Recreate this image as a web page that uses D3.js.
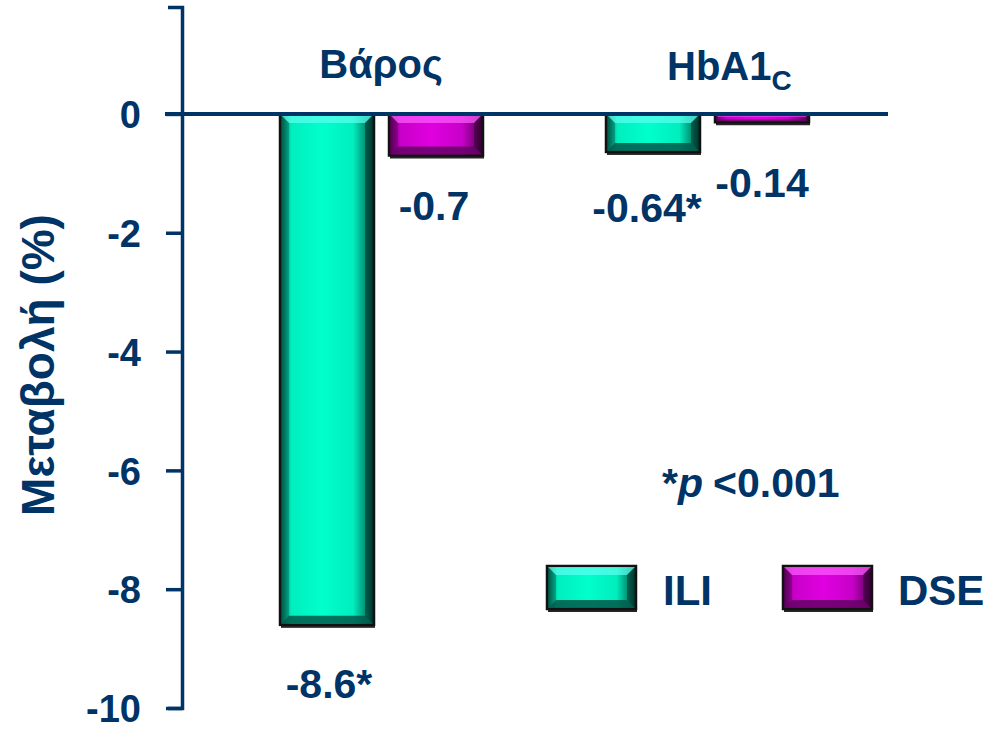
<!DOCTYPE html>
<html>
<head>
<meta charset="utf-8">
<script src="https://cdn.jsdelivr.net/npm/d3@7"></script>
<style>
  html, body { margin: 0; padding: 0; background: #ffffff; }
  svg { display: block; font-family: "Liberation Sans", Arial, sans-serif; }
</style>
</head>
<body>
<svg id="chart" width="987" height="730"></svg>
<script>
// Percent change by measure and intervention
const categories = ["Βάρος", "HbA1c"];
const seriesNames = ["ILI", "DSE"];
const iliValues = [-8.6, -0.64];
const dseValues = [-0.7, -0.14];
const iliLabels = ["-8.6*", "-0.64*"];
const dseLabels = ["-0.7", "-0.14"];
const yTicks = [0, -2, -4, -6, -8, -10];

const navy = "#003366";
const palette = {
  ILI: { dark: "#004d40", mid: "#00eebe", light: "#00ffcc", top: "#5cfff0", bottom: "#00594a" },
  DSE: { dark: "#4d004d", mid: "#c800c8", light: "#e000e0", top: "#ff5cff", bottom: "#660066" }
};

const svg = d3.select("#chart");
const defs = svg.append("defs");

// horizontal shading for the bevelled bars
seriesNames.forEach(s => {
  const c = palette[s];
  const g = defs.append("linearGradient").attr("id", "grad-" + s)
    .attr("x1", "0%").attr("x2", "100%").attr("y1", "0%").attr("y2", "0%");
  [[0, c.dark], [0.12, c.mid], [0.45, c.light], [0.78, c.mid], [1, c.dark]].forEach(([o, col]) =>
    g.append("stop").attr("offset", o).attr("stop-color", col));
});

const y = d3.scaleLinear().domain([-10, 1.8]).range([708, 7]);
const x0 = d3.scaleBand().domain(categories).range([218, 870]).padding(0);
const x1 = d3.scaleBand().domain(seriesNames).range([62, 265]).paddingInner(0.1376).paddingOuter(0);

const rows = categories.map((c, i) => ({
  category: c,
  items: [
    { series: "ILI", value: iliValues[i], label: iliLabels[i] },
    { series: "DSE", value: dseValues[i], label: dseLabels[i] }
  ]
}));

// bevelled bar: gradient body, light top facet, dark bottom facet, black frame
function bevelBar(g, x, y0, w, h, s) {
  const c = palette[s];
  const b = Math.min(9, h / 3);
  g.append("rect").attr("x", x + 1).attr("y", y0 + 3).attr("width", w).attr("height", h)
    .attr("fill", "#000").attr("opacity", 0.85);
  g.append("rect").attr("x", x).attr("y", y0).attr("width", w).attr("height", h)
    .attr("fill", `url(#grad-${s})`).attr("stroke", "#111").attr("stroke-width", 2.5);
  g.append("path")
    .attr("d", `M${x + 1},${y0 + 1}L${x + w - 1},${y0 + 1}L${x + w - b},${y0 + b}L${x + b},${y0 + b}Z`)
    .attr("fill", c.top).attr("opacity", 0.7);
  g.append("path")
    .attr("d", `M${x + 1},${y0 + h - 1}L${x + w - 1},${y0 + h - 1}L${x + w - b},${y0 + h - b}L${x + b},${y0 + h - b}Z`)
    .attr("fill", c.bottom).attr("opacity", 0.85);
  g.append("path")
    .attr("d", `M${x + 1},${y0 + 1}L${x + b},${y0 + b}L${x + b},${y0 + h - b}L${x + 1},${y0 + h - 1}Z`)
    .attr("fill", c.dark).attr("opacity", 0.35);
  g.append("path")
    .attr("d", `M${x + w - 1},${y0 + 1}L${x + w - b},${y0 + b}L${x + w - b},${y0 + h - b}L${x + w - 1},${y0 + h - 1}Z`)
    .attr("fill", "#000").attr("opacity", 0.35);
}

// bars
const groups = svg.append("g").selectAll("g").data(rows).join("g")
  .attr("transform", d => `translate(${x0(d.category)},0)`);
groups.each(function (d) {
  const g = d3.select(this);
  d.items.forEach(it => {
    const top = y(0);
    const h = y(it.value) - y(0);
    bevelBar(g, x1(it.series), top, x1.bandwidth(), h, it.series);
  });
});

// zero line
svg.append("line").attr("x1", 165).attr("x2", 888).attr("y1", y(0)).attr("y2", y(0))
  .attr("stroke", navy).attr("stroke-width", 4);

// y axis
const yAxis = svg.append("g").attr("transform", "translate(182,0)")
  .call(d3.axisLeft(y).tickValues(yTicks).tickSize(16).tickSizeOuter(14).tickPadding(25)
    .tickFormat(d => String(d)));
yAxis.selectAll("path, line").attr("stroke", navy).attr("stroke-width", 3.5);
yAxis.selectAll("text").attr("fill", navy).attr("font-size", 38).attr("font-weight", "bold")
  .attr("font-family", "Liberation Sans, Arial, sans-serif").attr("dy", "0.36em");

// y title
svg.append("text").attr("transform", "translate(54,365) rotate(-90)")
  .attr("text-anchor", "middle").attr("fill", navy).attr("font-size", 46).attr("font-weight", "bold")
  .text("Μεταβολή (%)");

// category labels
svg.append("text").attr("x", 381).attr("y", 78).attr("text-anchor", "middle")
  .attr("fill", navy).attr("font-size", 40).attr("font-weight", "bold").text(categories[0]);
const hb = svg.append("text").attr("x", 667).attr("y", 80).attr("fill", navy)
  .attr("font-size", 40).attr("font-weight", "bold");
hb.append("tspan").text("HbA1");
hb.append("tspan").attr("font-size", 28).attr("dy", 10).text("C");

// value labels (offsets below each bar end, in px)
const labelOffset = {
  "Βάρος": { ILI: [2, 73], DSE: [-2, 64] },
  "HbA1c": { ILI: [-6, 70], DSE: [0, 75] }
};
rows.forEach(r => {
  r.items.forEach(it => {
    const cx = x0(r.category) + x1(it.series) + x1.bandwidth() / 2;
    const [ox, oy] = labelOffset[r.category][it.series];
    svg.append("text").attr("x", cx + ox).attr("y", y(it.value) + oy)
      .attr("text-anchor", "middle").attr("fill", navy).attr("font-size", 41).attr("font-weight", "bold")
      .text(it.label);
  });
});

// significance note
const note = svg.append("text").attr("x", 662).attr("y", 497).attr("fill", navy)
  .attr("font-size", 41).attr("font-weight", "bold");
note.append("tspan").text("*");
note.append("tspan").attr("font-style", "italic").text("p");
note.append("tspan").attr("dx", 10).text("<0.001");

// legend
const legend = svg.append("g");
const legendItems = [
  { series: "ILI", x: 547, tx: 663 },
  { series: "DSE", x: 783, tx: 898 }
];
legendItems.forEach(li => {
  bevelBar(legend, li.x, 566, 89, 43, li.series);
  legend.append("text").attr("x", li.tx).attr("y", 605).attr("fill", navy)
    .attr("font-size", 42).attr("font-weight", "bold").text(li.series);
});
</script>
</body>
</html>
